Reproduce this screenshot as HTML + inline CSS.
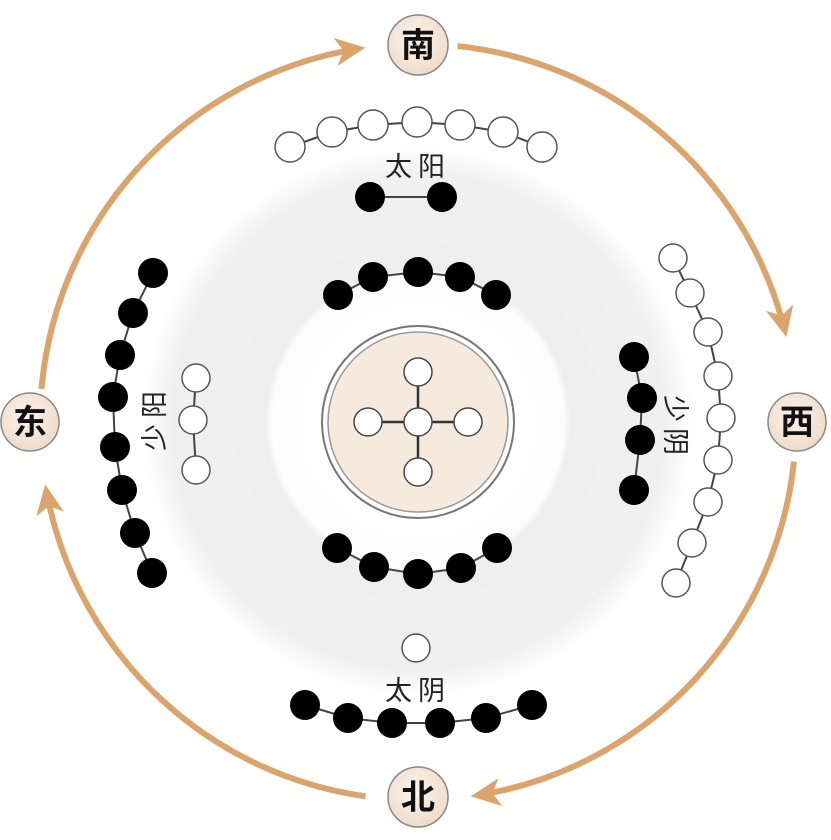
<!DOCTYPE html>
<html><head><meta charset="utf-8"><style>
html,body{margin:0;padding:0;background:#fff;width:831px;height:840px;overflow:hidden}
text{font-family:"Liberation Sans","Noto Sans CJK SC",sans-serif}
</style></head><body>
<svg width="831" height="840" viewBox="0 0 831 840" xmlns="http://www.w3.org/2000/svg">
<defs>
<radialGradient id="bg" cx="418" cy="422" r="275" gradientUnits="userSpaceOnUse">
<stop offset="0" stop-color="#fff"/>
<stop offset="0.53" stop-color="#fdfdfd"/>
<stop offset="0.555" stop-color="#eeeeee"/>
<stop offset="0.9" stop-color="#f0f0f0"/>
<stop offset="1" stop-color="#fff"/>
</radialGradient>
<radialGradient id="dir" cx="0.45" cy="0.4" r="0.6">
<stop offset="0" stop-color="#fbf3ea"/><stop offset="1" stop-color="#efdccb"/>
</radialGradient>
</defs>
<circle cx="418" cy="422" r="275" fill="url(#bg)"/>
<g fill="none" stroke="#dba46c" stroke-width="6">
<circle cx="418" cy="422" r="378" stroke-dasharray="495 2000" transform="rotate(-175 418 422)"/>
<circle cx="418" cy="422" r="378" stroke-dasharray="455 2000" transform="rotate(-84 418 422)"/>
<circle cx="418" cy="422" r="378" stroke-dasharray="481 2000" transform="rotate(6 418 422)"/>
<circle cx="418" cy="422" r="378" stroke-dasharray="462 2000" transform="rotate(98 418 422)"/>
</g>
<g fill="#dba46c">
<g transform="rotate(-98 418 422)"><path d="M796 422 L782 392 L796 400 L810 392 Z"/></g>
<g transform="rotate(-13 418 422)"><path d="M796 422 L782 392 L796 400 L810 392 Z"/></g>
<g transform="rotate(82 418 422)"><path d="M796 422 L782 392 L796 400 L810 392 Z"/></g>
<g transform="rotate(170.5 418 422)"><path d="M796 422 L782 392 L796 400 L810 392 Z"/></g>
</g>
<g stroke="#888" stroke-width="1.5" fill="url(#dir)">
<circle cx="418" cy="45" r="30"/><circle cx="30" cy="422" r="29"/>
<circle cx="797" cy="422" r="29"/><circle cx="418" cy="797" r="30"/>
</g>
<g font-size="34" font-weight="bold" text-anchor="middle" fill="#111">
<text x="418" y="57">南</text><text x="30" y="434">东</text>
<text x="797" y="434">西</text><text x="418" y="809">北</text>
</g>
<circle cx="418" cy="422" r="96" fill="#fff" stroke="#777" stroke-width="2"/>
<circle cx="418" cy="422" r="90" fill="#f6eadf" stroke="#999" stroke-width="1.5"/>
<g stroke="#333" stroke-width="2.5"><line x1="418" y1="372" x2="418" y2="472"/><line x1="368" y1="422" x2="468" y2="422"/></g>
<g fill="#fff" stroke="#444" stroke-width="1.5">
<circle cx="418" cy="372" r="14"/><circle cx="418" cy="472" r="14"/><circle cx="368" cy="422" r="14"/><circle cx="468" cy="422" r="14"/><circle cx="418" cy="422" r="14"/>
</g>
<g fill="none" stroke="#444" stroke-width="2">
<polyline points="290,147 332,132 373,125 417,122 460,125 503,132 542,147"/>
<polyline points="370,197 442,197"/>
<polyline points="338,295 373,277 418,272 460,277 496,295"/>
<polyline points="337,548 374,567 418,574 461,568 497,548"/>
<polyline points="305,705 348,718 392,723 440,723 486,718 532,705"/>
<polyline points="153,273 133,313 120,355 113,397 115,447 122,490 135,533 152,573"/>
<polyline points="196,378 193,420 196,470"/>
<polyline points="673,258 690,293 708,332 718,376 721,418 718,460 708,502 692,543 676,583"/>
<polyline points="634,357 642,398 640,440 634,490"/>
</g>
<g fill="#fff" stroke="#555" stroke-width="1.5">
<circle cx="290" cy="147" r="15"/><circle cx="332" cy="132" r="15"/><circle cx="373" cy="125" r="15"/><circle cx="417" cy="122" r="15"/><circle cx="460" cy="125" r="15"/><circle cx="503" cy="132" r="15"/><circle cx="542" cy="147" r="15"/>
<circle cx="196" cy="378" r="14"/><circle cx="193" cy="420" r="14"/><circle cx="196" cy="470" r="14"/>
<circle cx="673" cy="258" r="14"/><circle cx="690" cy="293" r="14"/><circle cx="708" cy="332" r="14"/><circle cx="718" cy="376" r="14"/><circle cx="721" cy="418" r="14"/><circle cx="718" cy="460" r="14"/><circle cx="708" cy="502" r="14"/><circle cx="692" cy="543" r="14"/><circle cx="676" cy="583" r="14"/>
<circle cx="416" cy="648" r="14"/>
</g>
<g fill="#000">
<circle cx="370" cy="197" r="15"/><circle cx="442" cy="197" r="15"/>
<circle cx="338" cy="295" r="15"/><circle cx="373" cy="277" r="15"/><circle cx="418" cy="272" r="15"/><circle cx="460" cy="277" r="15"/><circle cx="496" cy="295" r="15"/>
<circle cx="337" cy="548" r="15"/><circle cx="374" cy="567" r="15"/><circle cx="418" cy="574" r="15"/><circle cx="461" cy="568" r="15"/><circle cx="497" cy="548" r="15"/>
<circle cx="305" cy="705" r="15"/><circle cx="348" cy="718" r="15"/><circle cx="392" cy="723" r="15"/><circle cx="440" cy="723" r="15"/><circle cx="486" cy="718" r="15"/><circle cx="532" cy="705" r="15"/>
<circle cx="153" cy="273" r="15"/><circle cx="133" cy="313" r="15"/><circle cx="120" cy="355" r="15"/><circle cx="113" cy="397" r="15"/><circle cx="115" cy="447" r="15"/><circle cx="122" cy="490" r="15"/><circle cx="135" cy="533" r="15"/><circle cx="152" cy="573" r="15"/>
<circle cx="634" cy="357" r="15"/><circle cx="642" cy="398" r="15"/><circle cx="640" cy="440" r="15"/><circle cx="634" cy="490" r="15"/>
</g>
<g font-size="27" fill="#222" text-anchor="middle">
<text x="418" y="176" letter-spacing="6">太阳</text>
<text x="418" y="700" letter-spacing="6">太阴</text>
<text transform="translate(164,418) rotate(-90)" letter-spacing="6">少阳</text>
<text transform="translate(666,428) rotate(90)" letter-spacing="6">少阴</text>
</g>
</svg>
</body></html>
